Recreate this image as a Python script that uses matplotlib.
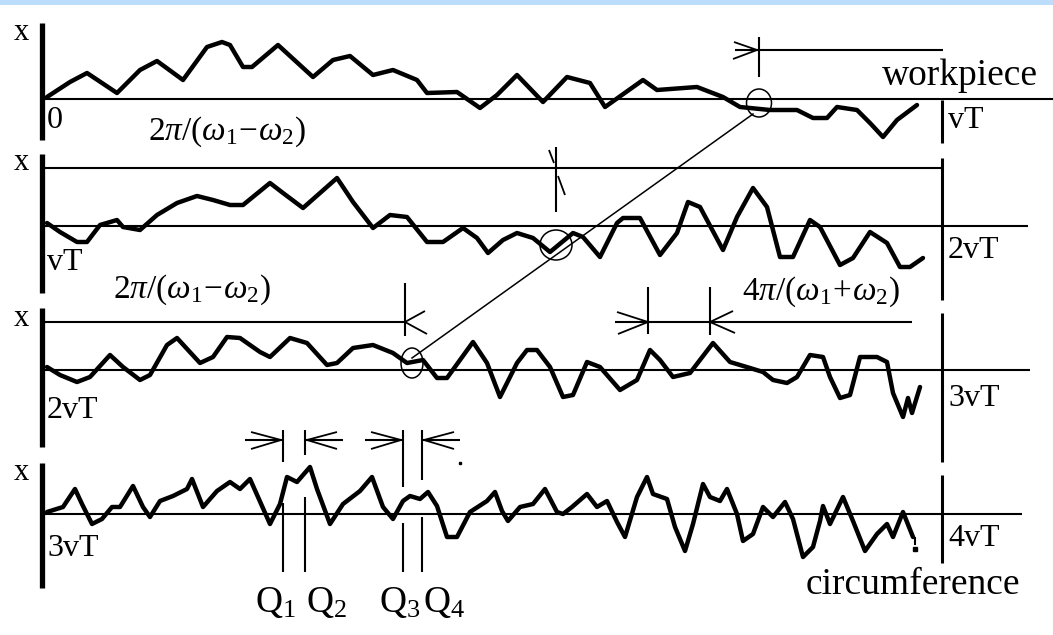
import matplotlib
matplotlib.use("Agg")
import matplotlib.pyplot as plt
from matplotlib.patches import Ellipse, Rectangle

plt.rcParams['font.family'] = ['Liberation Serif', 'DejaVu Serif']
plt.rcParams['mathtext.fontset'] = 'custom'
plt.rcParams['mathtext.rm'] = 'Liberation Serif'
plt.rcParams['mathtext.it'] = 'Liberation Serif:italic'
plt.rcParams['mathtext.bf'] = 'Liberation Serif:bold'

# surface traces: position along the circumference and deviation x from the baseline
trace1_pos = [47, 70, 87, 117, 140, 157, 183, 207, 222, 230, 243, 252, 278, 313, 333, 350, 373,
              393, 417, 427, 457, 480, 497, 517, 543, 567, 590, 605, 643, 657, 697, 723, 740,
              770, 797, 813, 827, 837, 857, 870, 883, 897, 917]
trace1_dev = [2, 17, 26, 6, 29, 38, 19, 52, 57, 54, 32, 32, 54, 22, 39, 43, 24,
              29, 19, 6, 7, -9, 4, 24, -3, 22, 16, -8, 19, 9, 12, 2, -8,
              -11, -11, -19, -19, -8, -11, -24, -38, -21, -6]

trace2_pos = [47, 60, 77, 87, 100, 117, 123, 140, 157, 177, 197, 213, 230, 243, 270, 283, 303,
              320, 337, 353, 373, 390, 407, 427, 443, 463, 477, 488, 503, 517, 533, 550, 573,
              583, 600, 617, 623, 640, 660, 677, 688, 700, 723, 737, 753, 767, 780, 793, 810,
              820, 840, 853, 870, 887, 900, 910, 923]
trace2_dev = [3, -6, -16, -16, 1, 6, -1, -4, 11, 23, 30, 26, 21, 21, 43, 33, 18,
              33, 48, 24, -2, 11, 9, -16, -16, -2, -12, -27, -14, -7, -12, -26, -7,
              -11, -31, 3, 8, 8, -29, -7, 24, 19, -24, 9, 38, 19, -31, -31, 6,
              -1, -39, -32, -6, -17, -41, -41, -32]

trace3_pos = [47, 60, 77, 90, 110, 123, 140, 150, 167, 177, 200, 213, 227, 240, 260, 270, 290,
              307, 327, 337, 353, 373, 393, 407, 423, 437, 447, 473, 487, 500, 517, 527, 537,
              550, 563, 573, 587, 600, 620, 637, 650, 660, 673, 690, 713, 730, 750, 763, 773,
              787, 797, 810, 823, 830, 840, 850, 860, 877, 887, 893, 903, 908, 912, 920]
trace3_dev = [3, -5, -12, -7, 15, 3, -10, -5, 25, 32, 7, 13, 33, 32, 18, 13, 32,
              27, 5, 7, 22, 25, 17, 7, 10, -8, -8, 28, 7, -27, 7, 20, 20,
              3, -27, -25, 8, 3, -20, -10, 20, 10, -7, -3, 27, 8, 2, -2, -10,
              -13, -7, 15, 13, -7, -28, -25, 13, 13, 8, -23, -47, -28, -43, -17]

trace4_pos = [47, 63, 75, 82, 92, 102, 112, 120, 133, 143, 150, 160, 173, 187, 192, 203, 217,
              230, 240, 250, 262, 270, 280, 287, 297, 310, 317, 330, 343, 360, 372, 383, 393,
              403, 410, 420, 428, 437, 447, 457, 470, 487, 495, 502, 508, 520, 533, 545, 557,
              563, 572, 587, 597, 607, 617, 625, 637, 647, 653, 667, 675, 685, 693, 703, 710,
              720, 727, 737, 743, 753, 763, 773, 785, 793, 803, 813, 820, 823, 830, 843, 853,
              865, 877, 887, 893, 903, 913]
trace4_dev = [2, 7, 25, 10, -10, -5, 7, 7, 28, 7, -3, 13, 18, 25, 35, 7, 23,
              32, 25, 35, 8, -10, 10, 37, 32, 47, 25, -10, 10, 23, 37, 7, -5,
              13, 18, 15, 22, 8, -23, -23, 2, 13, 22, 3, -7, 7, 10, 25, 2,
              0, 7, 20, 7, 13, -8, -23, 17, 37, 20, 15, -13, -37, -10, 30, 17,
              13, 25, 0, -27, -20, 7, -3, 12, -5, -43, -33, -7, 8, -10, 17, -7,
              -37, -20, -10, -23, 2, -23]

left_labels = ['0', 'vT', '2vT', '3vT']
right_labels = ['vT', '2vT', '3vT', '4vT']
q_labels = [r'$\mathrm{Q}_1$', r'$\mathrm{Q}_2$', r'$\mathrm{Q}_3$', r'$\mathrm{Q}_4$']
beat_label = r'$2\pi/(\omega_1\!-\!\omega_2)$'
sum_label = r'$4\pi/(\omega_1\!+\!\omega_2)$'

traces = [(trace1_pos, trace1_dev), (trace2_pos, trace2_dev),
          (trace3_pos, trace3_dev), (trace4_pos, trace4_dev)]
baselines = [99, 226, 370, 514]

fig = plt.figure(figsize=(10.53, 6.35), dpi=100)
ax = fig.add_axes([0, 0, 1, 1])
ax.set_xlim(0, 1053)
ax.set_ylim(635, 0)
ax.axis('off')

ax.add_patch(Rectangle((0, 0), 1053, 4.5, color='#bcdcfc', lw=0))


def seg(x0, y0, x1, y1, lw=1.5):
    ax.plot([x0, x1], [y0, y1], color='black', lw=lw, solid_capstyle='butt')


# left axes and "x" labels
for y0, y1, yl in [(23, 140, 32), (154, 293, 163), (308, 447, 318), (463, 588, 472)]:
    seg(42, y0, 42, y1, lw=3.8)
    ax.text(21, yl, 'x', fontsize=22, ha='center', va='center')

# baselines and reference lines
seg(42, 99, 1053, 99)
seg(42, 168, 942, 168)
seg(42, 226, 1028, 226)
seg(42, 322, 405, 322)
seg(42, 370, 1030, 370)
seg(42, 514, 1022, 514)

# right separators
for y0, y1 in [(100, 143), (158, 300), (313, 462), (475, 563)]:
    seg(942, y0, 942, y1, lw=2.2)

# traces
for (pos, dev), base in zip(traces, baselines):
    ax.plot(pos, [base - d for d in dev], color='black', lw=3.2,
            solid_joinstyle='round', solid_capstyle='round')
ax.plot([915, 915], [538, 544], color='black', lw=1.5)
ax.plot([915], [549], 's', color='black', ms=2.2)

# labels at left and right
for lab, y in zip(left_labels, [120, 262, 411, 549]):
    ax.text(47, y, lab, fontsize=23, ha='left', va='center')
for lab, y in zip(right_labels, [121, 250, 398, 539]):
    ax.text(948, y, lab, fontsize=23, ha='left', va='center')
ax.text(1038, 76, 'workpiece', fontsize=27, ha='right', va='center')
ax.text(1020, 585, 'circumference', fontsize=27, ha='right', va='center')

# period annotations
ax.text(148, 132, beat_label, fontsize=24, ha='left', va='center')
ax.text(113, 290, beat_label, fontsize=24, ha='left', va='center')
ax.text(742, 292, sum_label, fontsize=24, ha='left', va='center')

# workpiece dimension at top
seg(759, 37, 759, 77)
seg(759, 50, 943, 50)
seg(735, 50, 759, 50)
seg(734, 42, 757, 50, lw=1.3)
seg(733, 59, 757, 50, lw=1.3)

# marker on 2nd trace
seg(556, 147, 556, 212)
seg(549, 150, 554, 163, lw=1.3)
seg(558, 176, 565, 195, lw=1.3)

# arrow on 3rd reference line
seg(405, 283, 405, 336)
seg(405, 322, 425, 311, lw=1.3)
seg(405, 322, 427, 334, lw=1.3)

# 4pi/(w1+w2) dimension
seg(648, 287, 648, 334)
seg(710, 287, 710, 335)
seg(615, 322, 912, 322)
seg(617, 312, 648, 322, lw=1.3)
seg(618, 334, 648, 322, lw=1.3)
seg(710, 322, 733, 311, lw=1.3)
seg(710, 322, 735, 333, lw=1.3)

# circles and connecting line
for cx, cy, w, h in [(759, 103, 25, 28), (556, 245, 32, 30), (412, 363, 22, 30)]:
    ax.add_patch(Ellipse((cx, cy), w, h, fill=False, ec='black', lw=1.1))
ax.plot([412, 753], [358, 114], color='black', lw=1.1)

# Q markers
for xq, top, side, lo in [(283, 462, -1, 503), (305, 455, 1, 497),
                          (403, 487, -1, 523), (422, 480, 1, 517)]:
    seg(xq, 430, xq, top)
    seg(xq, lo, xq, 572)
    seg(xq, 440, xq + side * 38, 440)
    seg(xq + side * 2, 440, xq + side * 32, 432, lw=1.3)
    seg(xq + side * 2, 440, xq + side * 32, 449, lw=1.3)
ax.plot([460], [463], 's', color='black', ms=1.5)
for lab, xq in zip(q_labels, [276, 327, 400, 444]):
    ax.text(xq, 603, lab, fontsize=27, ha='center', va='center')

fig.savefig('out.png', dpi=100, facecolor='white')
